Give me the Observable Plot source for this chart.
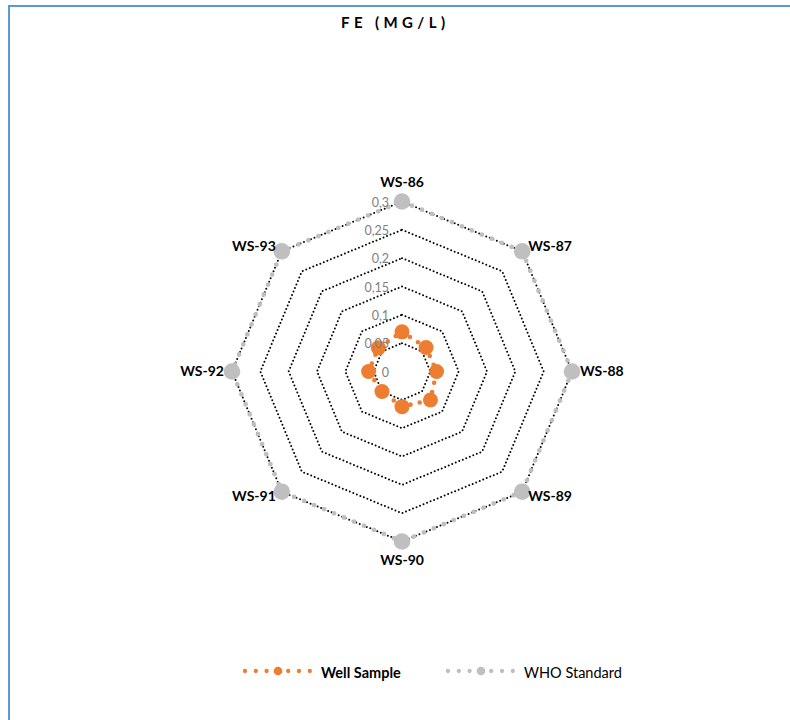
<!DOCTYPE html>
<html>
<head>
<meta charset="utf-8">
<script src="https://cdn.jsdelivr.net/npm/d3@7"></script>
<script src="https://cdn.jsdelivr.net/npm/@observablehq/plot@0.6"></script>
<style>
  html, body { margin: 0; padding: 0; background: #fff; overflow: hidden; }
  #wrap { position: relative; width: 790px; height: 720px; overflow: hidden; font-family: Lato, "Noto Sans", sans-serif; }
  #frame { position: absolute; left: 8px; top: 5px; width: 820px; height: 760px; border: 2px solid #5B9BD5; box-sizing: border-box; }
  #title { position: absolute; left: 341px; top: 12px; font-size: 15px; font-weight: 700; letter-spacing: 4.4px; color: #000; white-space: pre; line-height: 20px; }
  #chart { position: absolute; left: 0; top: 0; }
  #legend { position: absolute; left: 0; top: 660px; width: 790px; height: 24px; font-size: 14.5px; color: #000; }
  .item { position: absolute; top: 0; display: flex; align-items: center; height: 24px; }
  .item svg { margin-right: 8px; }
</style>
</head>
<body>
<div id="wrap">
  <div id="frame"></div>
  <div id="title">FE (MG/L)</div>
  <div id="chart"></div>
  <div id="legend"></div>
</div>
<script>
// Iron concentration per well, against the WHO guideline
const categories = ["WS-86", "WS-87", "WS-88", "WS-89", "WS-90", "WS-91", "WS-92", "WS-93"];
const wellSample = [0.070, 0.060, 0.061, 0.071, 0.062, 0.050, 0.059, 0.059];
const whoStandard = [0.3, 0.3, 0.3, 0.3, 0.3, 0.3, 0.3, 0.3];
const ringTicks = [0, 0.05, 0.1, 0.15, 0.2, 0.25, 0.3];
const ringTickLabels = ["0", "0,05", "0,1", "0,15", "0,2", "0,25", "0,3"];
const seriesNames = ["Well Sample", "WHO Standard"];

const ORANGE = "#ED7D31";
const GREY = "#BFBFBF";

// polar -> cartesian in value units; first spoke points up, clockwise
const angleOf = i => (2 * Math.PI * i) / categories.length;
const toXY = (v, i) => ({ x: v * Math.sin(angleOf(i)), y: v * Math.cos(angleOf(i)) });
const closed = arr => arr.concat([arr[0]]);

const rings = ringTicks.filter(t => t > 0).flatMap(t =>
  closed(categories.map((c, i) => ({ ring: t, ...toXY(t, i) })))
);
const whoPts = categories.map((c, i) => ({ cat: c, v: whoStandard[i], ...toXY(whoStandard[i], i) }));
const wellPts = categories.map((c, i) => ({ cat: c, v: wellSample[i], ...toXY(wellSample[i], i) }));
const ringLabels = ringTicks.map((t, k) => ({ x: 0, y: t, label: ringTickLabels[k] }));

// one label per spoke, anchored away from the centre
const catLabelMarks = categories.map((c, i) => {
  const s = Math.sin(angleOf(i)), co = Math.cos(angleOf(i));
  const side = Math.abs(s) < 0.1 ? 0 : Math.sign(s);
  const vert = Math.abs(co) < 0.1 ? 0 : Math.sign(co);
  const textAnchor = side > 0 ? "start" : side < 0 ? "end" : "middle";
  const dx = side === 0 ? 0 : side * (vert === 0 ? 8 : 6);
  const dy = side === 0 ? -19 * vert : -5 * vert;
  return Plot.text([{ ...toXY(whoStandard[i], i), label: c }], {
    x: "x", y: "y", text: "label", textAnchor, dx, dy,
    fontSize: 14, fontWeight: 700, fill: "#000"
  });
});

const chart = Plot.plot({
  width: 790,
  height: 640,
  margin: 0,
  x: { domain: [-0.3, 0.3], range: [231.5, 571.5], axis: null },
  y: { domain: [-0.3, 0.3], range: [541, 201], axis: null },
  style: { fontFamily: "Lato, 'Noto Sans', sans-serif", background: "transparent" },
  marks: [
    Plot.line(rings, { x: "x", y: "y", z: "ring", stroke: "#000", strokeWidth: 2, strokeDasharray: "0 3.8", strokeLinecap: "round" }),
    Plot.line(closed(wellPts), { x: "x", y: "y", stroke: ORANGE, strokeWidth: 4.6, strokeDasharray: "0 9.5", strokeLinecap: "round" }),
    Plot.dot(wellPts, { x: "x", y: "y", r: 7.5, fill: ORANGE, stroke: "none" }),
    Plot.line(closed(whoPts), { x: "x", y: "y", stroke: GREY, strokeWidth: 4.8, strokeDasharray: "0 10.8", strokeLinecap: "round" }),
    Plot.dot(whoPts, { x: "x", y: "y", r: 8.3, fill: GREY, stroke: "none" }),
    ...catLabelMarks,
    Plot.text(ringLabels, { x: "x", y: "y", text: "label", textAnchor: "end", dx: -13, dy: 1, fontSize: 12.5, fill: "#7F7F7F" })
  ]
});
document.getElementById("chart").appendChild(chart);

// legend: dotted line swatch with a marker in the middle
const legendColors = [ORANGE, GREY];
const legendLeft = [243, 446];
const legendWeights = [700, 400];
const legend = document.getElementById("legend");
seriesNames.forEach((name, k) => {
  const item = document.createElement("div");
  item.className = "item";
  item.style.left = legendLeft[k] + "px";
  const svg = d3.create("svg").attr("width", 70).attr("height", 24);
  svg.append("line")
    .attr("x1", 2).attr("x2", 68).attr("y1", 11).attr("y2", 11)
    .attr("stroke", legendColors[k]).attr("stroke-width", 4.3)
    .attr("stroke-linecap", "round").attr("stroke-dasharray", "0 10.8");
  svg.append("circle").attr("cx", 35).attr("cy", 11).attr("r", 4.3).attr("fill", legendColors[k]);
  item.appendChild(svg.node());
  const label = document.createElement("span");
  label.textContent = name;
  label.style.fontWeight = legendWeights[k];
  item.appendChild(label);
  legend.appendChild(item);
});
</script>
</body>
</html>
